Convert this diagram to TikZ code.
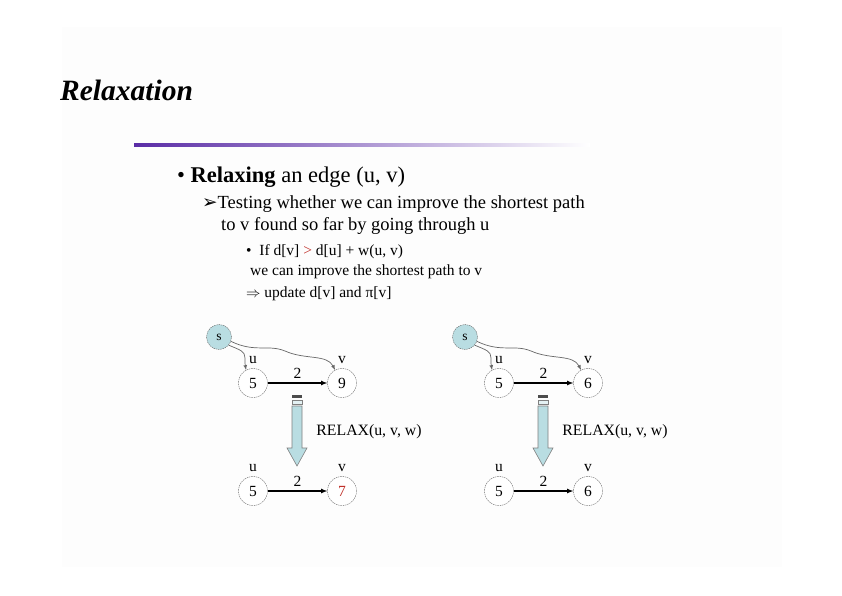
\documentclass[tikz,border=0pt]{standalone}
\usepackage{fontspec}
\setmainfont{Liberation Serif}
\newfontfamily\symfont{DejaVu Sans}
\usetikzlibrary{arrows}
\definecolor{nodeblue}{HTML}{B9DDE2}
\definecolor{lineviolet}{HTML}{5A2CA6}
\definecolor{valred}{HTML}{C0302A}
\begin{document}
\begin{tikzpicture}[x=1pt,y=-1pt]
	% size of each vertex
	\def\rad{29pt}
	\def\srad{25pt}
	\def\dx{246pt}
	% node style definition
	\tikzstyle{txt} = [anchor=base west, inner sep=0pt];
	\tikzstyle{vertex} = [draw=black!60, dash pattern=on 1.5pt off 0.8pt, circle, fill=white, minimum size=\rad, inner sep=0pt, font=\fontsize{15.5}{17}\selectfont];
	\tikzstyle{source} = [vertex, fill=nodeblue, minimum size=\srad, font=\fontsize{13.5}{15}\selectfont];
	\tikzstyle{lab} = [font=\fontsize{15.5}{17}\selectfont, label distance=1pt];
	\tikzstyle{weight} = [font=\fontsize{15.5}{17}\selectfont, above=0.5pt];
	\tikzstyle{edge} = [-latex, line width=1.1pt];
	\tikzstyle{walk} = [-latex, draw=black!60, line width=0.7pt];
	\tikzstyle{bigarrow} = [draw=gray, fill=nodeblue, line width=0.6pt];
	% page and background
	\useasboundingbox (0,0) rectangle (842,595);
	\fill[black!0.8] (62,27) rectangle (782,567);
	% title
	\node[txt, font=\fontsize{29.5}{32}\selectfont\bfseries\itshape] (title) at (60,100) {Relaxation};
	\shade[left color=lineviolet, right color=white] (134,143.5) rectangle (590,146.5);
	% text
	\node[txt, font=\fontsize{22.5}{26}\selectfont] (relax) at (177,182) {• \textbf{Relaxing} an edge (u, v)};
	\node[txt, font=\fontsize{18.5}{22}\selectfont] (test) at (202,208) {{\symfont ➢}Testing whether we can improve the shortest path};
	\node[txt, font=\fontsize{18.5}{22}\selectfont] (test2) at (221,230) {to v found so far by going through u};
	\node[txt, font=\fontsize{15.5}{17}\selectfont] (cond) at (246,255) {•\ \ If d[v] {\color{valred}>} d[u] + w(u, v)};
	\node[txt, font=\fontsize{15.5}{17}\selectfont] (cond2) at (250,275) {we can improve the shortest path to v};
	\node[txt, font=\fontsize{15.5}{17}\selectfont] (cond3) at (246,297) {$\Rightarrow$ update d[v] and π[v]};

	% left case: d[v] is lowered
	\node[source] (s1) at (219,337) {s};
	\node[vertex, label={[lab]above:u}] (u1) at (253,383) {5};
	\node[vertex, label={[lab]above:v}] (v1) at (342,383) {9};
	\draw[edge] (u1) -- node[weight] (w1) {2} (v1);
	\draw[walk] (s1.-40) .. controls (240,350) and (245,351) .. (245,358) .. controls (245,364) .. (u1.118);
	\draw[walk] (s1.-20) .. controls (255,353) and (268,344) .. (285,351) .. controls (305,360) and (327,354) .. (v1.118);
	\node[vertex, label={[lab]above:u}] (u2) at (253,491) {5};
	\node[vertex, label={[lab]above:v}] (v2) at (342,491) {\color{valred}7};
	\draw[edge] (u2) -- node[weight] (w2) {2} (v2);
	\node[txt, anchor=center, font=\fontsize{15.8}{17}\selectfont] (relaxa) at (369,432) {RELAX(u, v, w)};

	% right case: d[v] stays
	\begin{scope}[xshift=\dx]
	\node[source] (s3) at (219,337) {s};
	\node[vertex, label={[lab]above:u}] (u3) at (253,383) {5};
	\node[vertex, label={[lab]above:v}] (v3) at (342,383) {6};
	\draw[edge] (u3) -- node[weight] (w3) {2} (v3);
	\draw[walk] (s3.-40) .. controls (240,350) and (245,351) .. (245,358) .. controls (245,364) .. (u3.118);
	\draw[walk] (s3.-20) .. controls (255,353) and (268,344) .. (285,351) .. controls (305,360) and (327,354) .. (v3.118);
	\node[vertex, label={[lab]above:u}] (u4) at (253,491) {5};
	\node[vertex, label={[lab]above:v}] (v4) at (342,491) {6};
	\draw[edge] (u4) -- node[weight] (w4) {2} (v4);
	\node[txt, anchor=center, font=\fontsize{15.8}{17}\selectfont] (relaxb) at (369,432) {RELAX(u, v, w)};
	\end{scope}

	% block arrows
	\foreach \c in {297,543} {
		\fill[gray!60!black] (\c-5,395) rectangle (\c+5,397.5);
		\draw[bigarrow, fill=nodeblue!40] (\c-5,400) rectangle (\c+5,404);
		\draw[bigarrow] (\c-5,406) -- (\c+5,406) -- (\c+5,448) -- (\c+10,448) -- (\c,466) -- (\c-10,448) -- (\c-5,448) -- cycle;
	}
\end{tikzpicture}
\end{document}
